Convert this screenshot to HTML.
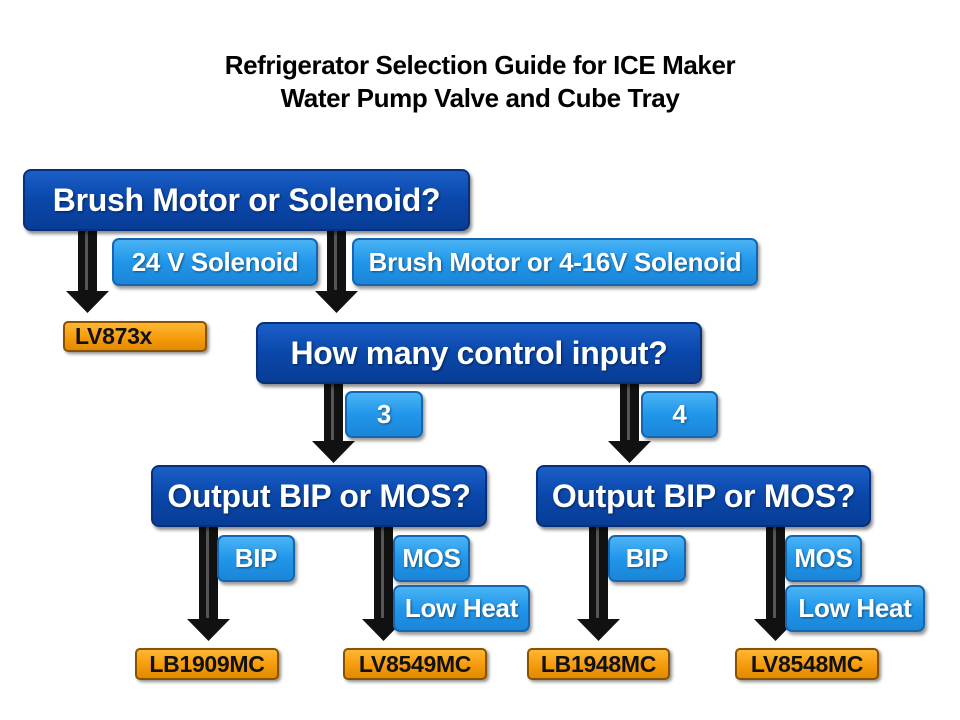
<!DOCTYPE html>
<html><head><meta charset="utf-8"><style>
html,body{margin:0;padding:0;background:#fff;}
body{width:960px;height:720px;position:relative;overflow:hidden;font-family:"Liberation Sans",Arial,sans-serif;}
.t{position:absolute;left:0;width:960px;text-align:center;font-weight:bold;font-size:26px;line-height:30px;letter-spacing:-0.4px;color:#000;}
.b{position:absolute;box-sizing:border-box;display:flex;align-items:center;justify-content:center;font-weight:bold;color:#fff;white-space:nowrap;letter-spacing:-0.3px;}
.dk{background:linear-gradient(#1a5fc8,#0a47aa 50%,#083d96);border:2px solid #06307a;border-radius:8px;font-size:32px;box-shadow:2px 3px 3px rgba(0,0,0,.45);text-shadow:1px 1px 2px rgba(0,0,0,.5);}
.lt{background:linear-gradient(#4ab4f4,#2196ea 50%,#1b86d8);border:2px solid #1566b0;border-radius:7px;font-size:26px;box-shadow:2px 3px 3px rgba(0,0,0,.4);text-shadow:1px 1px 2px rgba(0,0,0,.45);}
.or{background:linear-gradient(#ffb733,#f59b0c 55%,#e08a00);border:2px solid #8a5200;border-radius:5px;font-size:23px;color:#111;box-shadow:2px 2px 3px rgba(0,0,0,.45);}
svg{position:absolute;left:0;top:0;}
</style></head><body>
<div class="t" style="top:50px">Refrigerator Selection Guide for ICE Maker</div>
<div class="t" style="top:83px">Water Pump Valve and Cube Tray</div>

<svg width="960" height="720">
<g fill="#111">
<rect x="78" y="228" width="19" height="64"/><polygon points="66,291 109,291 87.5,313"/>
<rect x="327" y="228" width="19" height="64"/><polygon points="315,291 358,291 336.5,313"/>
<rect x="324" y="382" width="19" height="60"/><polygon points="312,441 355,441 333.5,463"/>
<rect x="620" y="382" width="19" height="60"/><polygon points="608,441 651,441 629.5,463"/>
<rect x="199" y="525" width="19" height="95"/><polygon points="187,619 230,619 208.5,641"/>
<rect x="374" y="525" width="19" height="95"/><polygon points="362,619 405,619 383.5,641"/>
<rect x="589" y="525" width="19" height="95"/><polygon points="577,619 620,619 598.5,641"/>
<rect x="766" y="525" width="19" height="95"/><polygon points="754,619 797,619 775.5,641"/>
</g>
<g fill="#555"><rect x="85" y="230" width="3" height="60"/><rect x="334" y="230" width="3" height="60"/><rect x="331" y="384" width="3" height="56"/><rect x="627" y="384" width="3" height="56"/><rect x="206" y="527" width="3" height="91"/><rect x="381" y="527" width="3" height="91"/><rect x="596" y="527" width="3" height="91"/><rect x="773" y="527" width="3" height="91"/></g>
</svg>

<div class="b dk" style="left:23px;top:169px;width:447px;height:62px;">Brush Motor or Solenoid?</div>
<div class="b lt" style="left:112px;top:238px;width:206px;height:48px;">24 V Solenoid</div>
<div class="b lt" style="left:352px;top:238px;width:406px;height:48px;">Brush Motor or 4-16V Solenoid</div>
<div class="b or" style="left:63px;top:321px;width:144px;height:31px;justify-content:flex-start;padding-left:10px;">LV873x</div>

<div class="b dk" style="left:256px;top:322px;width:446px;height:62px;">How many control input?</div>
<div class="b lt" style="left:345px;top:391px;width:78px;height:47px;">3</div>
<div class="b lt" style="left:641px;top:391px;width:77px;height:47px;">4</div>

<div class="b dk" style="left:151px;top:465px;width:336px;height:62px;">Output BIP or MOS?</div>
<div class="b dk" style="left:536px;top:465px;width:335px;height:62px;">Output BIP or MOS?</div>

<div class="b lt" style="left:217px;top:535px;width:78px;height:47px;">BIP</div>
<div class="b lt" style="left:393px;top:535px;width:77px;height:47px;">MOS</div>
<div class="b lt" style="left:393px;top:585px;width:137px;height:47px;">Low Heat</div>
<div class="b lt" style="left:608px;top:535px;width:78px;height:47px;">BIP</div>
<div class="b lt" style="left:785px;top:535px;width:77px;height:47px;">MOS</div>
<div class="b lt" style="left:785px;top:585px;width:140px;height:47px;">Low Heat</div>

<div class="b or" style="left:135px;top:648px;width:144px;height:32px;">LB1909MC</div>
<div class="b or" style="left:343px;top:648px;width:144px;height:32px;">LV8549MC</div>
<div class="b or" style="left:527px;top:648px;width:143px;height:32px;">LB1948MC</div>
<div class="b or" style="left:735px;top:648px;width:144px;height:32px;">LV8548MC</div>
</body></html>
